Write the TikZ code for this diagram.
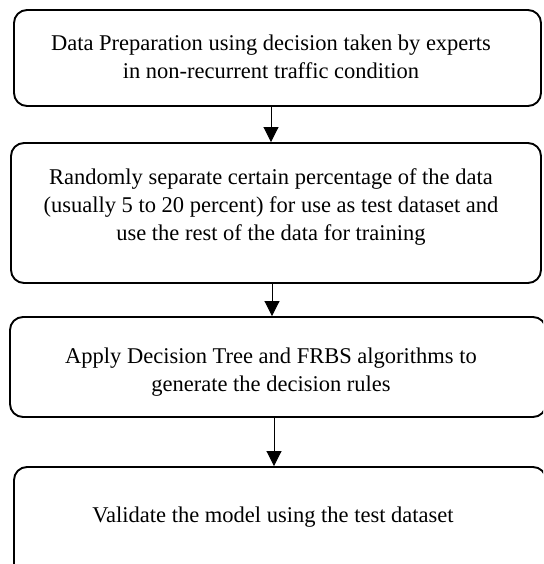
\documentclass[tikz,border=0pt]{standalone}
\usepackage{fontspec}
\setmainfont{Liberation Serif}
\usetikzlibrary{arrows.meta}
\tikzset{
  box/.style={draw=black, line width=1.9pt, rounded corners=13pt, inner sep=0pt},
  txt/.style={align=center, inner sep=0pt, font=\fontsize{22.5}{28}\selectfont},
  arr/.style={line width=0.9pt, -{Triangle[length=15pt,width=15pt]}}
}
\begin{document}
\begin{tikzpicture}[x=1pt,y=-1pt]
\useasboundingbox (0,0) rectangle (543,564);
\clip (0,0) rectangle (543,564);
\node[box, minimum width=527pt, minimum height=96pt] (b1) at (277.5,58) {};
\node[box, minimum width=530pt, minimum height=140pt] (b2) at (276,213) {};
\node[box, minimum width=536pt, minimum height=100pt] (b3) at (278,367) {};
\node[box, minimum width=532pt, minimum height=110pt] (b4) at (280,522) {};
\node[txt] (t1) at (271,57) {Data Preparation using decision taken by experts\\in non-recurrent traffic condition};
\node[txt] (t2) at (271,207) {Randomly separate certain percentage of the data\\(usually 5 to 20 percent) for use as test dataset and\\use the rest of the data for training};
\node[txt] (t3) at (271,372) {Apply Decision Tree and FRBS algorithms to\\generate the decision rules};
\node[txt] (t4) at (273,517) {Validate the model using the test dataset};
\draw[arr] (b1.south -| 271,0) -- (b2.north -| 271,0);
\draw[arr] (b2.south -| 272,0) -- (b3.north -| 272,0);
\draw[arr] (b3.south -| 274,0) -- (b4.north -| 274,0);
\end{tikzpicture}
\end{document}
